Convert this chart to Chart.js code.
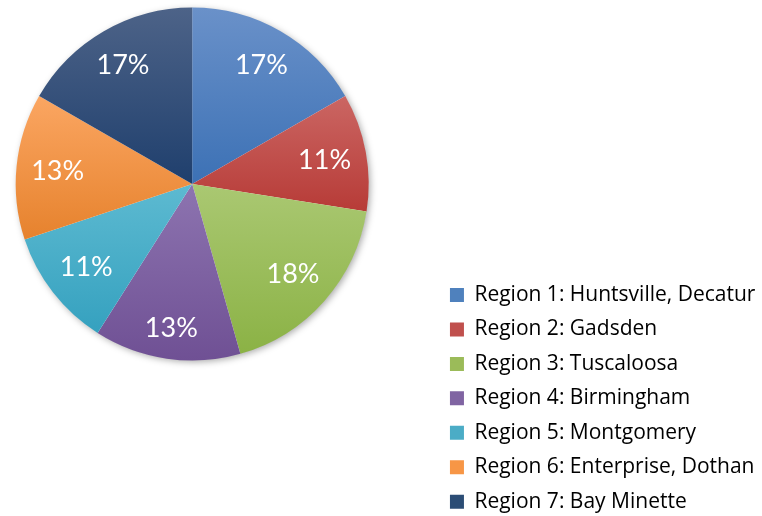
<!DOCTYPE html>
<html>
<head>
<meta charset="utf-8">
<script src="https://cdn.jsdelivr.net/npm/chart.js@4.4.1/dist/chart.umd.min.js"></script>
<style>
  html, body { margin: 0; padding: 0; background: #ffffff; }
  #wrap { width: 762px; height: 516px; }
</style>
</head>
<body>
<div id="wrap"><canvas id="pieChart" width="762" height="516"></canvas></div>
<script>
// --- Data ---
const regions = [
    'Region 1: Huntsville, Decatur',
    'Region 2: Gadsden',
    'Region 3: Tuscaloosa',
    'Region 4: Birmingham',
    'Region 5: Montgomery',
    'Region 6: Enterprise, Dothan',
    'Region 7: Bay Minette'
];
const shares = [16.7, 10.8, 18.1, 13.4, 10.9, 13.4, 16.7];

// light (top) / dark (bottom) colours for each slice, plus a flat one for the legend
const lightColors = ['#6a91c9', '#cb6663', '#aac872', '#8d74b0', '#5dbad1', '#fba662', '#4d6388'];
const darkColors = ['#3c71b5', '#b73b37', '#8bb245', '#6f5094', '#35a1bf', '#e6822d', '#1f3f6d'];
const flatColors = ['#4f81bd', '#c0504d', '#9bbb59', '#8064a2', '#4bacc6', '#f79646', '#2c4d75'];

// where the pie sits on the page
const PIE_X = 192.2;
const PIE_Y = 184;
const PIE_RADIUS = 176.5;

// vertical gradient over each slice's own bounding box (Excel style)
function sliceFill(context) {
    const chart = context.chart;
    const area = chart.chartArea;
    const i = context.dataIndex;
    if (!area || i === undefined) return flatColors[i] || flatColors[0];
    const cx = (area.left + area.right) / 2;
    const cy = (area.top + area.bottom) / 2;
    const total = shares.reduce((s, v) => s + v, 0);
    let before = 0;
    for (let k = 0; k < i; k++) before += shares[k];
    const a0 = -Math.PI / 2 + before / total * Math.PI * 2;
    const a1 = a0 + shares[i] / total * Math.PI * 2;
    const ys = [cy, cy + Math.sin(a0) * PIE_RADIUS, cy + Math.sin(a1) * PIE_RADIUS];
    // include top / bottom of the circle if the arc passes them
    [-Math.PI / 2, Math.PI / 2, Math.PI * 1.5].forEach(a => {
        if (a > a0 && a < a1) ys.push(cy + Math.sin(a) * PIE_RADIUS);
    });
    const top = Math.min(...ys);
    const bottom = Math.max(...ys);
    const g = chart.ctx.createLinearGradient(0, top, 0, bottom);
    g.addColorStop(0, lightColors[i]);
    g.addColorStop(1, darkColors[i]);
    return g;
}

// pin the pie's area after the legend has taken its place on the right
const pinPie = {
    id: 'pinPie',
    afterLayout(chart) {
        const a = chart.chartArea;
        a.left = PIE_X - PIE_RADIUS;
        a.right = PIE_X + PIE_RADIUS;
        a.top = PIE_Y - PIE_RADIUS;
        a.bottom = PIE_Y + PIE_RADIUS;
        a.width = a.right - a.left;
        a.height = a.bottom - a.top;
    }
};

// soft shadow behind the pie
const pieShadow = {
    id: 'pieShadow',
    beforeDatasetsDraw(chart) {
        const arc = chart.getDatasetMeta(0).data[0];
        if (!arc) return;
        const {x, y, outerRadius} = arc.getProps(['x', 'y', 'outerRadius'], true);
        const ctx = chart.ctx;
        ctx.save();
        ctx.shadowColor = 'rgba(0,0,0,0.35)';
        ctx.shadowBlur = 7;
        ctx.shadowOffsetX = 2;
        ctx.shadowOffsetY = 2;
        ctx.fillStyle = '#ffffff';
        ctx.beginPath();
        ctx.arc(x, y, outerRadius - 0.5, 0, Math.PI * 2);
        ctx.fill();
        ctx.restore();
    }
};

// percentage labels inside the slices
const pieLabels = {
    id: 'pieLabels',
    afterDatasetsDraw(chart) {
        const ctx = chart.ctx;
        const meta = chart.getDatasetMeta(0);
        const total = shares.reduce((s, v) => s + v, 0);
        ctx.save();
        ctx.font = '27px Lato, "Open Sans", sans-serif';
        ctx.fillStyle = '#ffffff';
        ctx.textAlign = 'center';
        ctx.textBaseline = 'middle';
        meta.data.forEach((arc, i) => {
            const p = arc.getProps(['x', 'y', 'startAngle', 'endAngle', 'outerRadius'], true);
            const mid = (p.startAngle + p.endAngle) / 2;
            const ux = Math.cos(mid), uy = Math.sin(mid);
            const text = Math.round(shares[i] / total * 100) + '%';
            const hw = ctx.measureText(text).width / 2;
            const hh = 12.5;
            // push the label out until its far corner reaches a fixed distance
            const reach = p.outerRadius * 0.924;
            const b = Math.abs(ux) * hw + Math.abs(uy) * hh;
            const t = -b + Math.sqrt(b * b - (hw * hw + hh * hh - reach * reach));
            ctx.fillText(text, p.x + ux * t, p.y + uy * t + 1);
        });
        ctx.restore();
    }
};

const ctx = document.getElementById('pieChart').getContext('2d');
new Chart(ctx, {
    type: 'pie',
    data: {
        labels: regions,
        datasets: [{
            data: shares,
            backgroundColor: sliceFill,
            borderWidth: 0,
            radius: PIE_RADIUS
        }]
    },
    options: {
        responsive: false,
        animation: false,
        layout: {
            padding: { left: 0, right: 1.5, top: 0, bottom: -9.65 }
        },
        plugins: {
            tooltip: { enabled: false },
            legend: {
                position: 'right',
                align: 'end',
                maxWidth: 324,
                labels: {
                    boxWidth: 14,
                    boxHeight: 14,
                    padding: 13.45,
                    color: '#595959',
                    font: { family: '"Open Sans", Lato, sans-serif', size: 21 },
                    generateLabels(chart) {
                        return regions.map((text, i) => ({
                            text: text,
                            fillStyle: flatColors[i],
                            strokeStyle: flatColors[i],
                            lineWidth: 0,
                            hidden: false,
                            index: i
                        }));
                    }
                }
            }
        }
    },
    plugins: [pinPie, pieShadow, pieLabels]
});
</script>
</body>
</html>
